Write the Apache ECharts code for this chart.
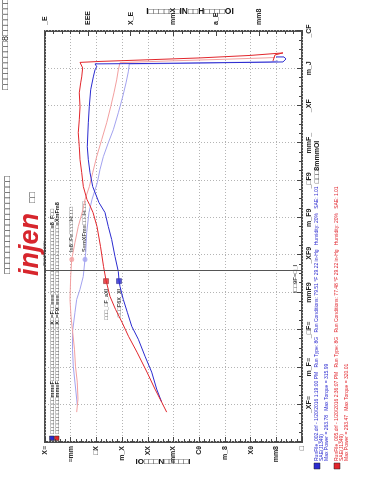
<!DOCTYPE html>
<html>
<head>
<meta charset="utf-8">
<script src="https://cdn.jsdelivr.net/npm/echarts@6/dist/echarts.min.js"></script>
<style>
html,body{margin:0;padding:0;background:#fff;width:371px;height:480px;overflow:hidden;}
#chart{position:absolute;left:0;top:0;width:480px;height:371px;transform-origin:0 0;transform:translate(0,480px) rotate(-90deg);}
</style>
</head>
<body>
<div id="chart"></div>
<script>
// ---- axes ----
const rpmMin = 1500, rpmMax = 7000, rpmStep = 500;
const rpmTickLabels = ['', '_XF≡', 'm_F≡', '_□F≡', 'mmF9', '_XF9', 'm_F9', '_□F9', 'mmF_', '_XF', 'm_J', '_CF'];
const powerMax = 350, powerStep = 35;
const powerTickLabels = ['□', 'mm8', 'Xθ', 'm_8', 'Cθ', 'mmX', 'XX', 'm_X', '□X', '≡mm', 'X≡'];
const torqueMax = 360, torqueStep = 60;
const torqueTickLabels = ['', 'mm8', 'a_E', 'mmX', 'X_E', 'EEE', '_E'];

// ---- run 005 (red) ----
const redPowerRpm = [1900, 2034, 2208, 2435, 2702, 2915, 3102, 3276, 3449, 3663, 3850, 4117, 4384, 4571, 4677, 4744, 4918, 5105, 5278, 5452, 5639, 5812, 5986, 6173, 6306, 6386, 6506, 6580, 6593, 6616, 6640, 6673, 6707, 6680, 6600];
const redPower = [184.3, 191.1, 200.2, 211.1, 224.7, 236.3, 245.1, 254.0, 261.5, 266.9, 270.3, 274.4, 279.2, 284.6, 289.4, 292.8, 297.8, 300.0, 302.3, 303.3, 304.7, 303.3, 302.3, 303.3, 301.4, 300.0, 298.7, 302.3, 275.1, 207.0, 138.9, 70.8, 25.9, 36.8, 39.5];
const redTorqueRpm = [1900, 2074, 2301, 2515, 2742, 2969, 3182, 3409, 3716, 3943, 3983, 4170, 4384, 4611, 4744, 4918, 5105, 5318, 5545, 5772, 5986, 6173, 6346, 6480, 6577, 6600, 6620, 6640, 6646];
const redTorque = [315.6, 313.8, 314.8, 317.3, 318.7, 321.2, 323.6, 325.0, 324.0, 322.6, 321.8, 318.0, 313.4, 306.8, 304.0, 297.9, 293.2, 287.6, 280.6, 273.6, 268.0, 263.4, 259.6, 257.3, 254.9, 184.9, 114.9, 51.8, 37.8];

// ---- run 002 (blue) ----
const bluePowerRpm = [2034, 2208, 2435, 2648, 2875, 3049, 3236, 3409, 3583, 3663, 3783, 3983, 4210, 4384, 4571, 4704, 4918, 5105, 5278, 5452, 5772, 5986, 6213, 6386, 6480, 6524, 6560, 6566, 6573, 6580, 6586, 6626, 6653, 6653];
const bluePower = [191.1, 197.9, 204.7, 213.8, 222.9, 231.9, 237.9, 243.4, 247.9, 249.2, 250.2, 254.7, 259.2, 263.8, 268.3, 276.5, 285.0, 288.7, 291.0, 292.4, 291.0, 289.7, 287.8, 284.2, 281.9, 279.6, 281.9, 207.0, 138.9, 70.8, 25.9, 21.8, 24.5, 35.4];
const blueTorqueRpm = [1994, 2168, 2515, 2742, 2969, 3236, 3409, 3543, 3716, 3943, 4037, 4304, 4571, 4744, 4971, 5145, 5318, 5505, 5679, 5906, 6119, 6306, 6453, 6560, 6566, 6580, 6586, 6600];
const blueTorque = [314.8, 316.6, 320.4, 321.5, 321.5, 318.0, 315.6, 311.0, 306.4, 304.0, 303.0, 301.6, 298.4, 294.2, 286.7, 283.0, 278.3, 271.3, 264.3, 257.3, 251.2, 246.5, 243.3, 241.9, 170.9, 100.9, 44.8, 33.6];

// ---- cursor & markers ----
const cursorRpm = 3790;
const cursorLabel = 'I□□9F=□_I';
const darkMarkerRpm = 3653, lightMarkerRpm = 3943;
const redPowerMark = 266.9, bluePowerMark = 249.2, redTorqueMark = 322.6, blueTorqueMark = 304.0;
const redPowerMarkLabel = '□□□_□F_aXI', bluePowerMarkLabel = '□□□F6X_XI';
const redTorqueMarkLabel = 'I≡8□F≡□□□□H□□□', blueTorqueMarkLabel = 'S≡mXFm≡□□□H□□□';

// ---- texts ----
const titleRight = '□□□□□□□□□8□□□□□□□';
const titleMid = '□□□□□□□□□□□□□□□□□□';
const leftAxisTitle = 'IO□□□N□□□□□I';
const rightAxisTitle = 'I□□□□□□IN□□H□□□□OI';
const rpmAxisTitle = '□□□8mmmOI';
const plotLegend = [
  '□□□□□□□□□□□mm≡F□□□□□□□□□□□□□□□□□X□=F□□≡≡≡□□□□□□□□□□□□□□□□□□□□≡8_F□□',
  '□□□□□□□□□□□mm≡F□□□□□□□□□□□□□□□□□X□=F9□≡≡≡□□□□□□□□□□□□□□□□□□□□□≡XmFm8'
];
const blueInfo = ['RunFile_002.drf - 1/20/2016 1:19:00 PM   Run Type: 8G   Run Conditions: 79.51 °F 29.22 in-Hg   Humidity: 20%   SAE: 1.01', 'SAE(J1349)', 'Max Power = 263.78   Max Torque = 315.99'];
const redInfo = ['RunFile_005.drf - 1/20/2016 2:36:07 PM   Run Type: 8G   Run Conditions: 77.48 °F 29.22 in-Hg   Humidity: 20%   SAE: 1.01', 'SAE(J1349)', 'Max Power = 293.47   Max Torque = 320.01'];

const RED = '#e2262c', BLUE = '#2b2bd0', LRED = '#f3a0a0', LBLUE = '#a3a3f0';
const FF = 'Liberation Sans, Arial, DejaVu Sans, sans-serif';
const zip = (a, b) => a.map((v, i) => [v, b[i]]);

const chart = echarts.init(document.getElementById('chart'), null, {width: 480, height: 371, renderer: 'canvas'});

const tickStyle = {show: true, inside: true, length: 5, lineStyle: {color: '#444', width: 1}};
const minorStyle = (n) => ({show: true, splitNumber: n, length: 3, lineStyle: {color: '#444', width: 1}});
const gridDots = {show: true, lineStyle: {color: '#b4b4b4', type: [1, 2], width: 1}};
const lab = (fmt, margin) => ({fontSize: 7, fontWeight: 'bold', color: '#222', fontFamily: FF, margin: margin, formatter: fmt});

const textEl = (t, x, y, opt) => Object.assign({type: 'text', x: x, y: y, silent: true,
  style: Object.assign({text: t, fontFamily: FF, fontSize: 7, fill: '#111', align: 'left', verticalAlign: 'middle'}, opt && opt.style || {})},
  opt && opt.rotation !== undefined ? {rotation: opt.rotation} : {});

const graphics = [
  textEl(titleRight, 482, 6, {style: {align: 'right', fontSize: 9}}),
  textEl(titleMid, 206, 8, {style: {fontSize: 9}}),
  textEl('injen', 204, 31, {style: {fontSize: 27, fontWeight: 'bold', fontStyle: 'italic', fill: '#d7262d', fontFamily: 'Liberation Sans, Arial, sans-serif'}}),
  textEl('TECHNOLOGY', 214, 45, {style: {fontSize: 3.5, fill: '#333'}}),
  textEl('□□', 277, 33, {style: {fontSize: 9, fill: '#333'}}),
  textEl(leftAxisTitle, 18, 163, {rotation: -Math.PI / 2, style: {align: 'center', fontSize: 8, fontWeight: 'bold'}}),
  textEl(rightAxisTitle, 468, 190, {rotation: -Math.PI / 2, style: {align: 'center', fontSize: 8.5, fontWeight: 'bold'}}),
  textEl(rpmAxisTitle, 318, 317, {style: {align: 'center', fontSize: 7, fontWeight: 'bold'}}),
  {type: 'rect', shape: {x: 39.5, y: 49.5, width: 4.5, height: 4.5}, style: {fill: BLUE, stroke: '#222', lineWidth: 0.5}},
  {type: 'rect', shape: {x: 39.5, y: 54.5, width: 4.5, height: 4.5}, style: {fill: RED, stroke: '#222', lineWidth: 0.5}},
  textEl(plotLegend[0], 46, 52, {style: {fontSize: 5.5, fontWeight: 'bold'}}),
  textEl(plotLegend[1], 46, 57, {style: {fontSize: 5.5, fontWeight: 'bold'}}),
  {type: 'rect', shape: {x: 11, y: 314, width: 6, height: 6}, style: {fill: BLUE, stroke: '#222', lineWidth: 0.5}},
  {type: 'rect', shape: {x: 11, y: 334, width: 6, height: 6}, style: {fill: RED, stroke: '#222', lineWidth: 0.5}}
];
blueInfo.forEach((t, i) => graphics.push(textEl(t, 19, 317 + i * 5, {style: {fontSize: 5, fill: BLUE}})));
redInfo.forEach((t, i) => graphics.push(textEl(t, 19, 337 + i * 5, {style: {fontSize: 5, fill: RED}})));

const markLabel = (pos) => ({show: true, position: pos, distance: 5, fontSize: 5.5, fontWeight: 'bold', color: '#111', fontFamily: FF, formatter: (p) => p.data.name});

chart.setOption({
  animation: false,
  backgroundColor: '#fff',
  grid: {left: 38, right: 31, top: 45, bottom: 69, show: true, borderColor: '#4d4d4d', borderWidth: 2, containLabel: false},
  xAxis: {
    type: 'value', min: rpmMin, max: rpmMax, interval: rpmStep,
    axisLine: {show: false}, axisTick: tickStyle, minorTick: minorStyle(4),
    splitLine: gridDots,
    axisLabel: lab((v) => rpmTickLabels[Math.round((v - rpmMin) / rpmStep)] || '', 4)
  },
  yAxis: [
    {type: 'value', min: 0, max: powerMax, interval: powerStep, position: 'left',
     axisLine: {show: false}, axisTick: tickStyle, minorTick: minorStyle(5), splitLine: gridDots,
     axisLabel: lab((v) => powerTickLabels[Math.round(v / powerStep)] || '', 4)},
    {type: 'value', min: 0, max: torqueMax, interval: torqueStep, position: 'right',
     axisLine: {show: false}, axisTick: tickStyle, minorTick: minorStyle(5), splitLine: {show: false},
     axisLabel: lab((v) => torqueTickLabels[Math.round(v / torqueStep)] || '', 6)}
  ],
  graphic: graphics,
  series: [
    {type: 'line', yAxisIndex: 1, data: zip(blueTorqueRpm, blueTorque), showSymbol: false, lineStyle: {color: LBLUE, width: 1}, itemStyle: {color: LBLUE}},
    {type: 'line', yAxisIndex: 1, data: zip(redTorqueRpm, redTorque), showSymbol: false, lineStyle: {color: LRED, width: 1}, itemStyle: {color: LRED}},
    {type: 'line', yAxisIndex: 0, data: zip(bluePowerRpm, bluePower), showSymbol: false, lineStyle: {color: BLUE, width: 1}, itemStyle: {color: BLUE}},
    {type: 'line', yAxisIndex: 0, data: zip(redPowerRpm, redPower), showSymbol: false, lineStyle: {color: RED, width: 1}, itemStyle: {color: RED},
     markLine: {silent: true, symbol: 'none', label: {show: false}, lineStyle: {color: '#555', type: 'solid', width: 1}, data: [{xAxis: cursorRpm}]}},
    {type: 'scatter', yAxisIndex: 0, symbol: 'rect', symbolSize: 5, label: markLabel('left'),
     data: [{name: redPowerMarkLabel, value: [darkMarkerRpm, redPowerMark], itemStyle: {color: RED, borderColor: '#600', borderWidth: 0.5}},
            {name: bluePowerMarkLabel, value: [darkMarkerRpm, bluePowerMark], itemStyle: {color: BLUE, borderColor: '#006', borderWidth: 0.5}}]},
    {type: 'scatter', yAxisIndex: 1, symbol: 'circle', symbolSize: 5, label: markLabel('right'),
     data: [{name: redTorqueMarkLabel, value: [lightMarkerRpm, redTorqueMark], itemStyle: {color: LRED}},
            {name: blueTorqueMarkLabel, value: [lightMarkerRpm, blueTorqueMark], itemStyle: {color: LBLUE}}]},
    {type: 'scatter', yAxisIndex: 0, symbolSize: 0, silent: true,
     label: {show: true, position: 'inside', offset: [-8, 0], fontSize: 6, fontWeight: 'bold', color: '#111', fontFamily: FF, formatter: cursorLabel},
     data: [[cursorRpm, 9]]}
  ]
});
</script>
</body>
</html>
